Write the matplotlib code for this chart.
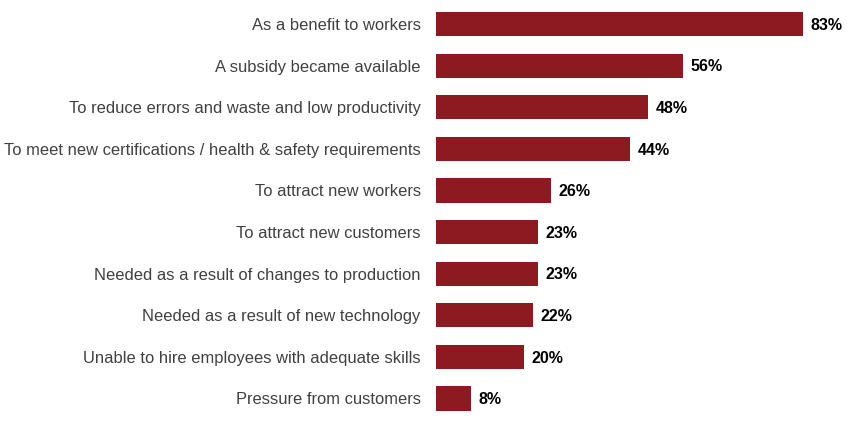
import matplotlib
matplotlib.use("Agg")
import matplotlib.pyplot as plt

categories = [
    "As a benefit to workers",
    "A subsidy became available",
    "To reduce errors and waste and low productivity",
    "To meet new certifications / health & safety requirements",
    "To attract new workers",
    "To attract new customers",
    "Needed as a result of changes to production",
    "Needed as a result of new technology",
    "Unable to hire employees with adequate skills",
    "Pressure from customers",
]
values = [83, 56, 48, 44, 26, 23, 23, 22, 20, 8]
value_labels = ["83%", "56%", "48%", "44%", "26%", "23%", "23%", "22%", "20%", "8%"]

plt.rcParams['font.family'] = ['Liberation Sans', 'DejaVu Sans']

fig = plt.figure(figsize=(8.47, 4.28), dpi=100)
ax = fig.add_axes([436/847, 1-419.3/428, 1-436/847, (419.3-3.2)/428])

ypos = list(range(len(categories)))
ax.barh(ypos, values, height=0.58, color="#8C1A20", edgecolor="none")
ax.set_xlim(0, 93)
ax.set_ylim(len(categories)-0.5, -0.5)
ax.set_yticks(ypos)
ax.set_yticklabels(categories, fontsize=11.9, color="#404040")
ax.tick_params(axis='y', length=0, pad=11)
ax.set_xticks([])
for s in ax.spines.values():
    s.set_visible(False)

for y, v, lab in zip(ypos, values, value_labels):
    ax.text(v + 1.7, y + 0.03, lab, va='center', ha='left', fontsize=11.5,
            fontweight='bold', color='#000000')

fig.savefig("out.png", dpi=100)
